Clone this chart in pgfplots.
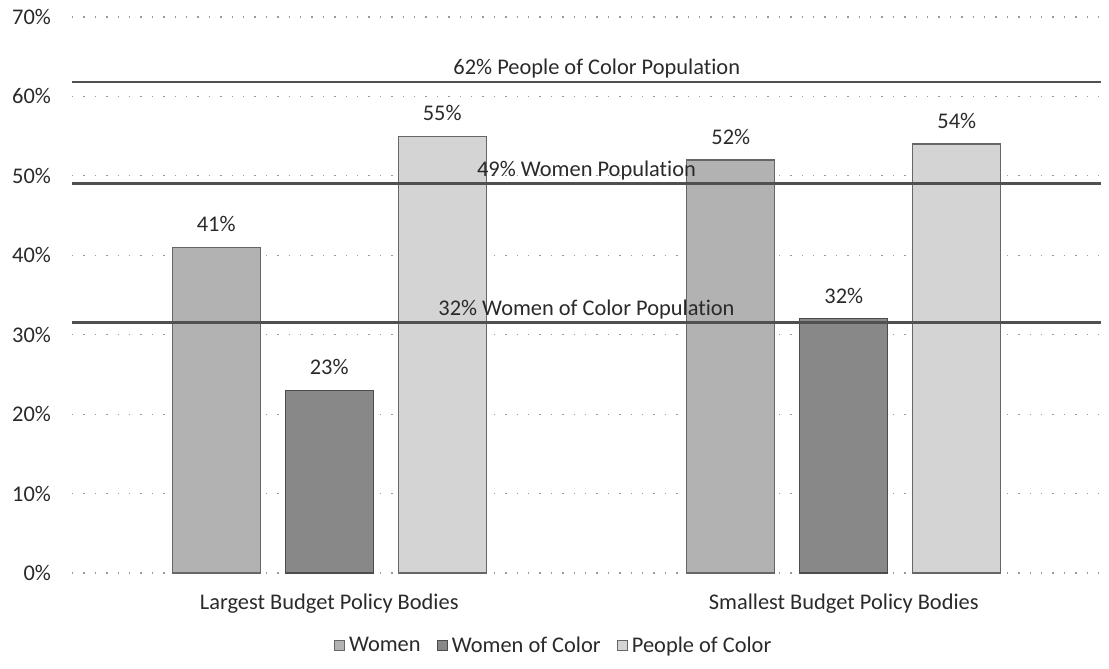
\documentclass[border=0pt]{standalone}
\usepackage{pgfplots}
\pgfplotsset{compat=1.18}
\usepackage{fontspec}
\setmainfont{Carlito}[Ligatures=NoCommon]
\definecolor{cWomen}{HTML}{B2B2B2}
\definecolor{cWoC}{HTML}{888888}
\definecolor{cPoC}{HTML}{D4D4D4}
\definecolor{refline}{HTML}{505050}
\definecolor{txt}{HTML}{2A2A2A}
\begin{document}
\begin{tikzpicture}
\begin{axis}[
  name=main,
  scale only axis, width=514.5pt, height=278pt,
  xmin=-0.5, xmax=1.5, ymin=0, ymax=70,
  xtick={0,1},
  xticklabels={Largest Budget Policy Bodies, Smallest Budget Policy Bodies},
  ytick={0,10,...,70},
  yticklabel={\pgfmathprintnumber{\tick}\%},
  /pgf/number format/assume math mode=true,
  font=\fontsize{11.2}{13}\selectfont,
  ymajorgrids,
  major grid style={black!40, line width=0.6pt, dash pattern=on 0.7pt off 5pt},
  axis line style={draw=none},
  tick style={draw=none},
  yticklabel style={xshift=-7pt, text=txt},
  xticklabel style={yshift=-7pt, text=txt},
  legend style={at={(0.469,-0.131)}, anchor=center, draw=none, fill=none,
    legend columns=3, text=txt,
    /tikz/every even column/.append style={column sep=6pt}},
  legend image code/.code={\draw[#1] (0pt,-2.5pt) rectangle (5pt,2.5pt);},
  clip=false,
]
\addplot[ybar, bar width=44pt, bar shift=-56.5pt, fill=cWomen, draw=black!60, line width=0.6pt,
  nodes near coords={\pgfmathprintnumber{\pgfplotspointmeta}\%},
  every node near coord/.append style={xshift=-56.5pt, yshift=4pt, text=txt}]
  coordinates {(0,41) (1,52)};
\addlegendentry{Women}
\addplot[ybar, bar width=44pt, bar shift=0pt, fill=cWoC, draw=black!70, line width=0.6pt,
  nodes near coords={\pgfmathprintnumber{\pgfplotspointmeta}\%},
  every node near coord/.append style={yshift=4pt, text=txt}]
  coordinates {(0,23) (1,32)};
\addlegendentry{Women of Color}
\addplot[ybar, bar width=44pt, bar shift=56.5pt, fill=cPoC, draw=black!60, line width=0.6pt,
  nodes near coords={\pgfmathprintnumber{\pgfplotspointmeta}\%},
  every node near coord/.append style={xshift=56.5pt, yshift=4pt, text=txt}]
  coordinates {(0,55) (1,54)};
\addlegendentry{People of Color}
\addplot[sharp plot, no marks, refline, line width=1.3pt, forget plot] coordinates {(-0.5,61.8) (1.5,61.8)};
\addplot[sharp plot, no marks, refline, line width=1.3pt, forget plot] coordinates {(-0.5,49) (1.5,49)};
\addplot[sharp plot, no marks, refline, line width=1.3pt, forget plot] coordinates {(-0.5,31.5) (1.5,31.5)};
\node[anchor=south, text=txt, inner sep=1.6pt] at (axis cs:0.52,61.8) {62\% People of Color Population};
\node[anchor=south, text=txt, inner sep=1.6pt] at (axis cs:0.50,49) {49\% Women Population};
\node[anchor=south, text=txt, inner sep=1.6pt] at (axis cs:0.50,31.5) {32\% Women of Color Population};
\end{axis}
\pgfresetboundingbox
\path[use as bounding box] ([xshift=-36pt,yshift=-48pt]main.south west) rectangle ([xshift=4pt,yshift=8.5pt]main.north east);
\end{tikzpicture}
\end{document}
